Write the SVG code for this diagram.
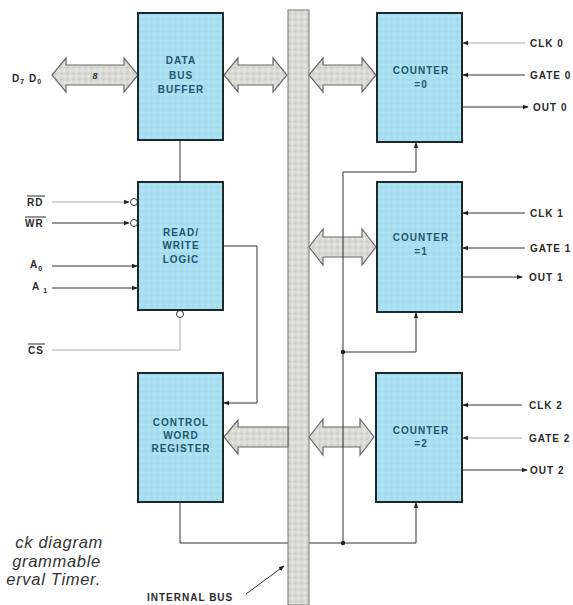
<svg xmlns="http://www.w3.org/2000/svg" width="573" height="605" viewBox="0 0 573 605">
<style>
.box{fill:#a9e0f1;stroke:#1c2a2e;stroke-width:2}
.bt{font-family:"Liberation Sans",Arial,sans-serif;font-size:10px;font-weight:bold;fill:#1f5670;text-anchor:middle;letter-spacing:1px}
.lbl{font-family:"Liberation Sans",Arial,sans-serif;font-size:10px;font-weight:bold;fill:#2a2a2a;letter-spacing:1px}
.ln{fill:none;stroke:#333;stroke-width:1}
.lt{fill:none;stroke:#aaa;stroke-width:1}
.wide{fill:#d9dbd4;stroke:#6a6a6a;stroke-width:1.2}
.cap{font-family:"Liberation Sans",Arial,sans-serif;font-size:16.5px;font-style:italic;fill:#333;text-anchor:end;letter-spacing:0.7px}
</style>
<defs>
<pattern id="tex" width="6" height="6" patternUnits="userSpaceOnUse">
<rect width="6" height="6" fill="#d9dbd4"/>
<circle cx="1.5" cy="1.5" r="1" fill="#c2c4bd"/>
<circle cx="4.5" cy="4.5" r="1" fill="#eceee8"/>
</pattern>
<pattern id="btex" width="6" height="6" patternUnits="userSpaceOnUse">
<rect width="6" height="6" fill="#a9e0f1"/>
<circle cx="1.5" cy="1.5" r="1" fill="#9dd6e8"/>
<circle cx="4.5" cy="4.5" r="1" fill="#b7e7f5"/>
</pattern>
<marker id="ar" viewBox="0 0 8 8" refX="7" refY="4" markerWidth="6" markerHeight="6" orient="auto">
<path d="M0,1 L8,4 L0,7 Z" fill="#222"/>
</marker>
</defs>
<rect width="573" height="605" fill="#fff"/>

<g id="connectors">
<polyline class="ln" points="180,502 180,543 416,543"/>
<rect id="internal-bus" x="288" y="10" width="21" height="595" fill="url(#tex)" stroke="#777" stroke-width="1"/>
<polygon class="wide" style="fill:url(#tex)" points="52,75 66,58 66,65 124,65 124,58 138,75 124,92 124,85 66,85 66,92"/>
<text x="95" y="79" font-family="Liberation Sans,Arial,sans-serif" font-size="9" font-weight="bold" font-style="italic" fill="#333" text-anchor="middle">8</text>
<polygon class="wide" style="fill:url(#tex)" points="224,75 238,58 238,65 273,65 273,58 287,75 273,92 273,85 238,85 238,92"/>
<polygon class="wide" style="fill:url(#tex)" points="309,75 323,58 323,65 362,65 362,58 376,75 362,92 362,85 323,85 323,92"/>
<polygon class="wide" style="fill:url(#tex)" points="309,247 323,229 323,237 362,237 362,229 376,247 362,265 362,257 323,257 323,265"/>
<polygon class="wide" style="fill:url(#tex)" points="309,437 323,419 323,427 360,427 360,419 374,437 360,455 360,447 323,447 323,455"/>
<polygon class="wide" style="fill:url(#tex)" points="224,437 238,420 238,427 288,427 288,447 238,447 238,454"/>
<line class="ln" x1="180" y1="140" x2="180" y2="182"/>
<polyline class="ln" points="223,246 257,246 257,403 224,403" marker-end="url(#ar)"/>
<polyline class="ln" points="343,543 343,172 416,172 416,143" marker-end="url(#ar)"/>
<polyline class="ln" points="343,352 416,352 416,313" marker-end="url(#ar)"/>
<line class="ln" x1="416" y1="543" x2="416" y2="503" marker-end="url(#ar)"/>
<circle cx="343" cy="352" r="2.2" fill="#222"/>
<circle cx="343" cy="543" r="2.2" fill="#222"/>
<line class="lt" x1="52" y1="202" x2="129" y2="202" marker-end="url(#ar)"/>
<line class="ln" x1="52" y1="223" x2="129" y2="223" marker-end="url(#ar)"/>
<circle cx="134" cy="202" r="3.5" fill="#fff" stroke="#333"/>
<circle cx="134" cy="223" r="3.5" fill="#fff" stroke="#333"/>
<line class="ln" x1="52" y1="266" x2="137" y2="266" marker-end="url(#ar)"/>
<line class="ln" x1="52" y1="288" x2="137" y2="288" marker-end="url(#ar)"/>
<circle cx="180" cy="314" r="3.5" fill="#fff" stroke="#333"/>
<polyline class="lt" points="52,350 180,350 180,318"/>
<line class="lt" x1="525" y1="43" x2="463" y2="43" marker-end="url(#ar)"/>
<line class="ln" x1="525" y1="75" x2="463" y2="75" marker-end="url(#ar)"/>
<line class="ln" x1="462" y1="107" x2="528" y2="107" marker-end="url(#ar)"/>
<line class="ln" x1="525" y1="213" x2="463" y2="213" marker-end="url(#ar)"/>
<line class="ln" x1="525" y1="248" x2="463" y2="248" marker-end="url(#ar)"/>
<line class="ln" x1="462" y1="277" x2="522" y2="277" marker-end="url(#ar)"/>
<line class="ln" x1="522" y1="405" x2="463" y2="405" marker-end="url(#ar)"/>
<line class="lt" x1="522" y1="438" x2="463" y2="438" marker-end="url(#ar)"/>
<line class="ln" x1="462" y1="470" x2="527" y2="470" marker-end="url(#ar)"/>
<line class="ln" x1="246" y1="594" x2="284" y2="566" marker-end="url(#ar)"/>
</g>

<g id="data-bus-buffer">
<rect class="box" style="fill:url(#btex)" x="138" y="13" width="85" height="127"/>
<text class="bt" x="181" y="64">DATA</text>
<text class="bt" x="181" y="79">BUS</text>
<text class="bt" x="181" y="93">BUFFER</text>
</g>
<g id="read-write-logic">
<rect class="box" style="fill:url(#btex)" x="138" y="182" width="85" height="128"/>
<text class="bt" x="181" y="236">READ/</text>
<text class="bt" x="181" y="249">WRITE</text>
<text class="bt" x="181" y="263">LOGIC</text>
</g>
<g id="control-word-register">
<rect class="box" style="fill:url(#btex)" x="138" y="373" width="85" height="129"/>
<text class="bt" x="181" y="426">CONTROL</text>
<text class="bt" x="181" y="439">WORD</text>
<text class="bt" x="181" y="452">REGISTER</text>
</g>
<g id="counter-0">
<rect class="box" style="fill:url(#btex)" x="377" y="13" width="85" height="129"/>
<text class="bt" x="421" y="74">COUNTER</text>
<text class="bt" x="421" y="88">=0</text>
</g>
<g id="counter-1">
<rect class="box" style="fill:url(#btex)" x="377" y="182" width="85" height="130"/>
<text class="bt" x="421" y="241">COUNTER</text>
<text class="bt" x="421" y="255">=1</text>
</g>
<g id="counter-2">
<rect class="box" style="fill:url(#btex)" x="376" y="373" width="86" height="129"/>
<text class="bt" x="421" y="434">COUNTER</text>
<text class="bt" x="421" y="447">=2</text>
</g>

<g id="labels">
<text class="lbl" x="12" y="82" letter-spacing="0.5">D<tspan font-size="7" dy="2">7</tspan><tspan dy="-2"> D</tspan><tspan font-size="7" dy="2">0</tspan></text>
<text class="lbl" x="27" y="206">RD</text>
<line x1="27" y1="196" x2="45" y2="196" stroke="#2a2a2a" stroke-width="1"/>
<text class="lbl" x="25" y="227">WR</text>
<line x1="25" y1="217" x2="46" y2="217" stroke="#2a2a2a" stroke-width="1"/>
<text class="lbl" x="30" y="268">A<tspan font-size="7" dy="3">0</tspan></text>
<text class="lbl" x="32" y="290">A<tspan font-size="7" dy="3"> 1</tspan></text>
<text class="lbl" x="28" y="354">CS</text>
<line x1="28" y1="344" x2="45" y2="344" stroke="#2a2a2a" stroke-width="1"/>
<text class="lbl" x="530" y="47">CLK 0</text>
<text class="lbl" x="530" y="79">GATE 0</text>
<text class="lbl" x="533" y="111">OUT 0</text>
<text class="lbl" x="530" y="217">CLK 1</text>
<text class="lbl" x="530" y="252">GATE 1</text>
<text class="lbl" x="529" y="281">OUT 1</text>
<text class="lbl" x="529" y="409">CLK 2</text>
<text class="lbl" x="529" y="442">GATE 2</text>
<text class="lbl" x="530" y="474">OUT 2</text>
<text class="lbl" x="147" y="601" font-size="9" letter-spacing="1.3">INTERNAL BUS</text>
<text class="cap" x="103" y="548">ck diagram</text>
<text class="cap" x="101" y="566.5">grammable</text>
<text class="cap" x="101" y="585">erval Timer.</text>
</g>
</svg>
